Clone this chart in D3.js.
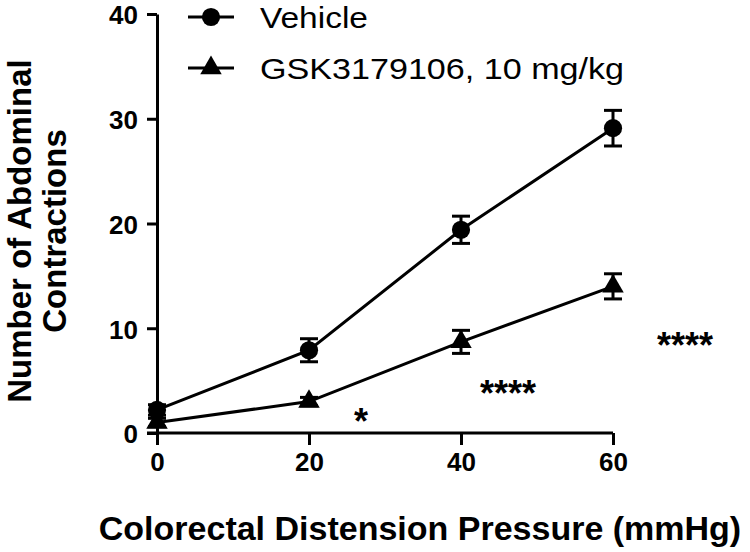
<!DOCTYPE html>
<html><head><meta charset="utf-8">
<script src="https://cdn.jsdelivr.net/npm/d3@7"></script>
<style>body{margin:0;background:#fff}text{font-family:"Liberation Sans",Arial,sans-serif;fill:#000}</style>
</head><body><svg id="c" width="750" height="552"></svg>
<script>
const pressures = [0, 20, 40, 60];
const vehicleMean = [2.2, 7.9, 19.4, 29.1];
const vehicleSem = [0.5, 1.1, 1.3, 1.7];
const gskMean = [1.0, 3.0, 8.7, 14.0];
const gskSem = [0.4, 0.4, 1.1, 1.2];
const sigLabels = ["", "*", "****", "****"];
const xTicks = [0, 20, 40, 60];
const yTicks = [0, 10, 20, 30, 40];
const seriesNames = ["Vehicle", "GSK3179106, 10 mg/kg"];

const svg = d3.select("#c");
const x = d3.scaleLinear().domain([0, 60]).range([157, 613]);
const y = d3.scaleLinear().domain([0, 40]).range([433, 14]);

const xAxis = svg.append("g").attr("transform", "translate(0,433)")
  .call(d3.axisBottom(x).tickValues(xTicks).tickSize(12).tickPadding(8).tickSizeOuter(0));
const yAxis = svg.append("g").attr("transform", "translate(157,0)")
  .call(d3.axisLeft(y).tickValues(yTicks).tickSize(10).tickPadding(9).tickSizeOuter(0));
[xAxis, yAxis].forEach(g => {
  g.select(".domain").attr("stroke", "#000").attr("stroke-width", 3);
  g.selectAll(".tick line").attr("stroke", "#000").attr("stroke-width", 3);
  g.selectAll(".tick text").attr("font-size", 26).attr("font-weight", "bold")
    .attr("font-family", "Liberation Sans, Arial, sans-serif").attr("fill", "#000");
});
yAxis.selectAll(".tick text").attr("dy", "0.38em");
xAxis.select(".domain").attr("d", `M${x(0)-10},0H${x(60)}`);

const series = [
  {name: seriesNames[0], mean: vehicleMean, sem: vehicleSem, shape: d3.symbolCircle, width: 108},
  {name: seriesNames[1], mean: gskMean, sem: gskSem, shape: d3.symbolTriangle, width: 364}
];
const line = d3.line().x(d => x(d[0])).y(d => y(d[1]));
series.forEach(s => {
  const pts = pressures.map((p, i) => [p, s.mean[i], s.sem[i]]);
  svg.append("path").attr("d", line(pts)).attr("fill", "none").attr("stroke", "#000").attr("stroke-width", 3);
  const g = svg.append("g");
  pts.forEach(d => {
    const cx = x(d[0]), y1 = y(d[1] + d[2]), y2 = y(d[1] - d[2]);
    g.append("line").attr("x1", cx).attr("x2", cx).attr("y1", y1).attr("y2", y2).attr("stroke", "#000").attr("stroke-width", 3);
    [y1, y2].forEach(yy => g.append("line").attr("x1", cx - 9).attr("x2", cx + 9).attr("y1", yy).attr("y2", yy).attr("stroke", "#000").attr("stroke-width", 3));
    g.append("path").attr("d", d3.symbol().type(s.shape).size(s.shape === d3.symbolCircle ? 260 : 200)())
      .attr("transform", `translate(${cx},${y(d[1])})`).attr("fill", "#000");
  });
});

// significance labels
const sigOffsets = [null, [52, 32], [47, 64], [72, 72]];
pressures.forEach((p, i) => {
  if (!sigLabels[i]) return;
  svg.append("text").attr("x", x(p) + sigOffsets[i][0]).attr("y", y(gskMean[i]) + sigOffsets[i][1])
    .attr("text-anchor", "middle").attr("font-size", 36).attr("font-weight", "bold").text(sigLabels[i]);
});

// legend
series.forEach((s, i) => {
  const ly = 17 + i * 51;
  svg.append("line").attr("x1", 188).attr("x2", 234).attr("y1", ly).attr("y2", ly).attr("stroke", "#000").attr("stroke-width", 3);
  svg.append("path").attr("d", d3.symbol().type(s.shape).size(s.shape === d3.symbolCircle ? 260 : 200)())
    .attr("transform", `translate(211,${ly})`).attr("fill", "#000");
  svg.append("text").attr("x", 260).attr("y", ly + 11).attr("font-size", 30)
    .attr("textLength", s.width).attr("lengthAdjust", "spacingAndGlyphs").text(s.name);
});

// axis titles
svg.append("text").attr("x", 420).attr("y", 540).attr("text-anchor", "middle")
  .attr("font-size", 34).attr("font-weight", "bold").text("Colorectal Distension Pressure (mmHg)");
const yl = svg.append("text").attr("transform", "translate(31,231) rotate(-90)").attr("text-anchor", "middle")
  .attr("font-size", 33).attr("font-weight", "bold");
yl.append("tspan").attr("x", 0).attr("y", 0).text("Number of Abdominal");
yl.append("tspan").attr("x", 0).attr("y", 35).text("Contractions");
</script></body></html>
